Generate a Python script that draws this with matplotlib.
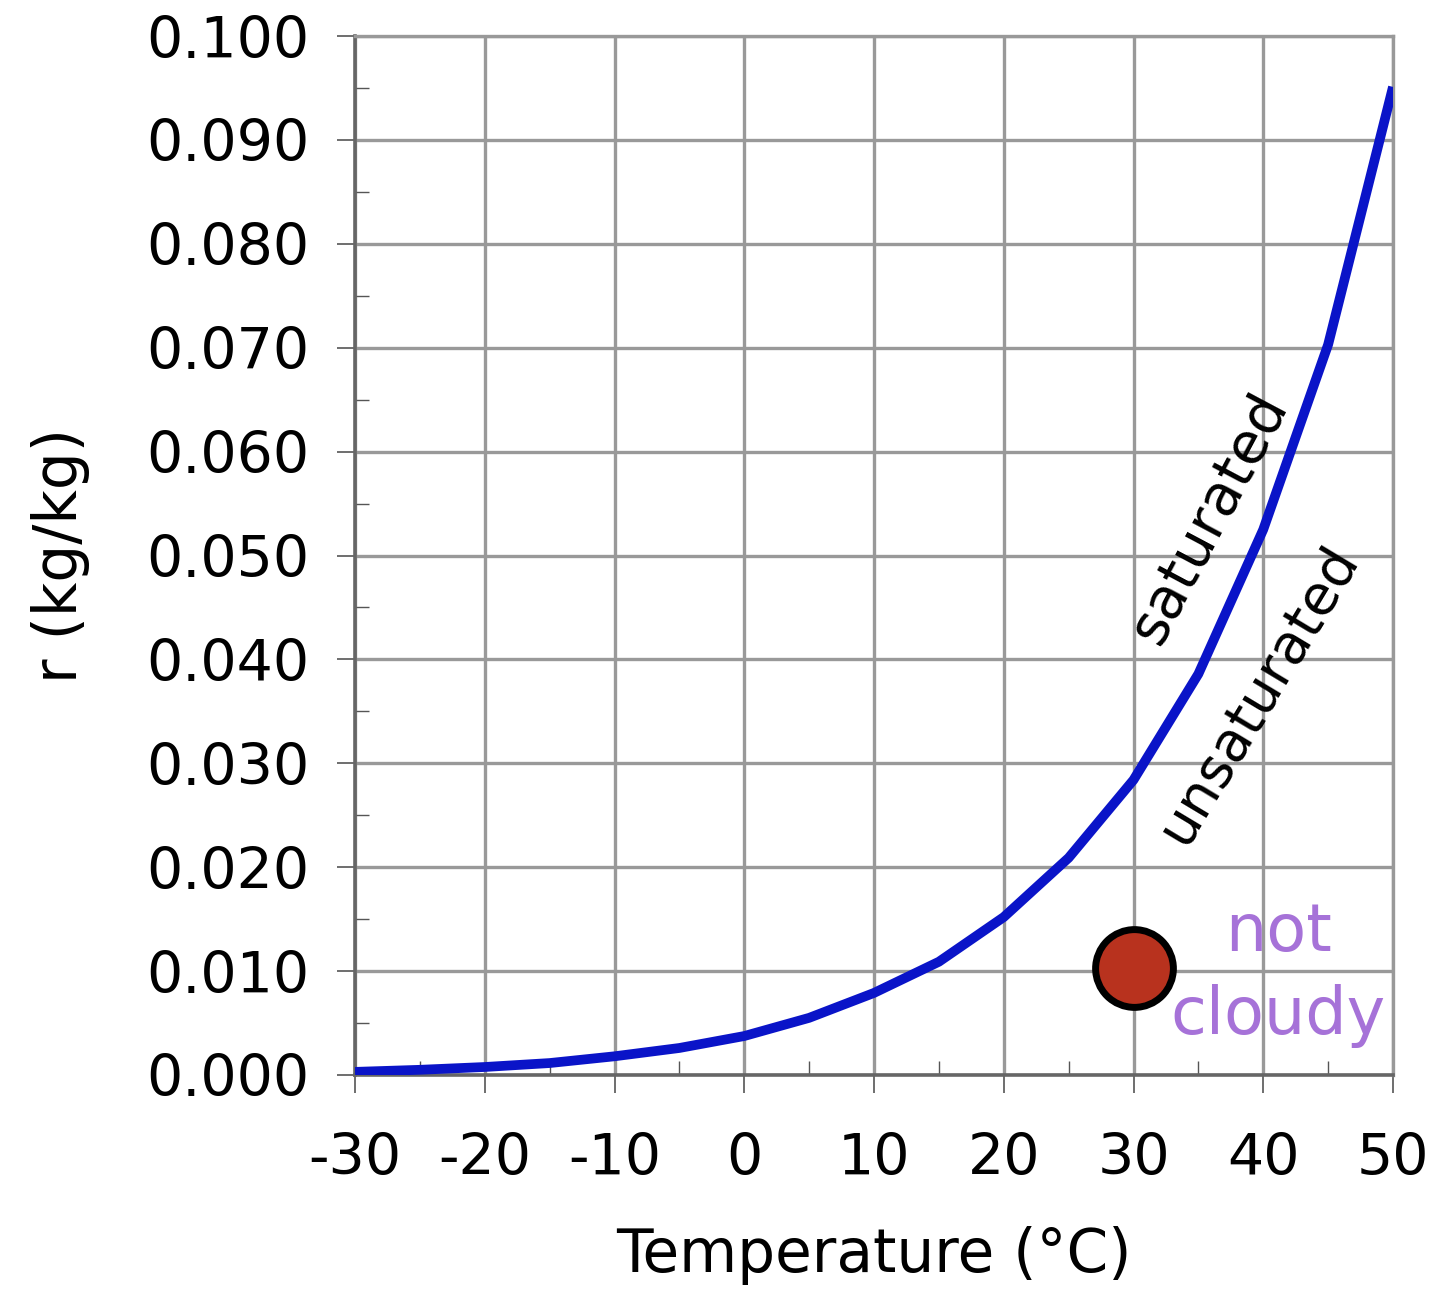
import matplotlib
matplotlib.use("Agg")
import matplotlib.pyplot as plt
from matplotlib.ticker import MultipleLocator, FormatStrFormatter

temps = [-30, -25, -20, -15, -10, -5, 0, 5, 10, 15, 20, 25, 30, 35, 40, 45, 50]
r_sat = [0.0003, 0.0005, 0.00077, 0.00115, 0.0018, 0.0026, 0.00375, 0.0055, 0.0079,
         0.0109, 0.0152, 0.0209, 0.0284, 0.0386, 0.0525, 0.0703, 0.0951]
point_T = [30]
point_r = [0.0103]

fig = plt.figure(figsize=(14.38, 13), dpi=100)
ax = fig.add_axes([355/1438, 1-1075/1300, (1393-355)/1438, (1075-36)/1300])

ax.plot(temps, r_sat, color="#0a14c8", lw=7, solid_capstyle="butt", zorder=3)
ax.plot(point_T, point_r, "o", ms=56, mfc="#b8321e", mec="black", mew=5, zorder=4, clip_on=False)

ax.set_xlim(-30, 50)
ax.set_ylim(0, 0.100)
ax.xaxis.set_major_locator(MultipleLocator(10))
ax.xaxis.set_minor_locator(MultipleLocator(5))
ax.yaxis.set_major_locator(MultipleLocator(0.010))
ax.yaxis.set_minor_locator(MultipleLocator(0.005))
ax.yaxis.set_major_formatter(FormatStrFormatter("%.3f"))
ax.xaxis.set_major_formatter(FormatStrFormatter("%d"))

ax.grid(True, which="major", color="#999999", lw=2.4, zorder=0)
for s in ["top", "right"]:
    ax.spines[s].set_color("#999999")
    ax.spines[s].set_linewidth(2.4)
for s in ["left", "bottom"]:
    ax.spines[s].set_color("#666666")
    ax.spines[s].set_linewidth(2.6)

ax.tick_params(which="major", direction="out", length=13, width=1.2, color="#555555",
               labelsize=41, pad=20)
ax.tick_params(axis="x", which="major", pad=28)
ax.tick_params(which="minor", direction="in", length=10, width=1.0, color="#555555")

ax.set_xlabel("Temperature (°C)", fontsize=43, labelpad=28)
ax.set_ylabel("r (kg/kg)", fontsize=43, labelpad=40)

ax.text(35.9, 0.0536, "saturated", fontsize=41, rotation=62, ha="center", va="center",
        zorder=5)
ax.text(39.6, 0.0366, "unsaturated", fontsize=40, rotation=59, ha="center", va="center",
        zorder=5)
ax.text(41.15, 0.0137, "not", fontsize=47, color="#a672d8", ha="center", va="center",
        zorder=5)
ax.text(41.15, 0.0057, "cloudy", fontsize=47, color="#a672d8", ha="center", va="center",
        zorder=5)

fig.savefig("out.png", dpi=100, facecolor="white")
